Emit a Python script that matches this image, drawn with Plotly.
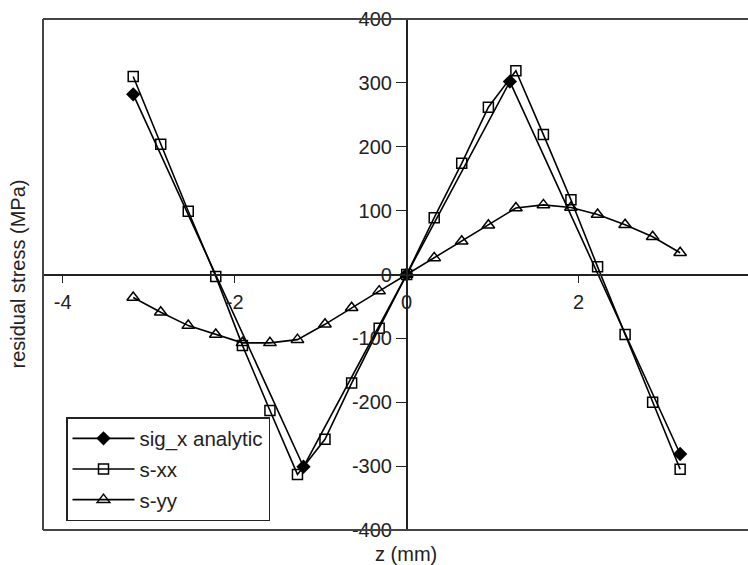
import plotly.graph_objects as go

# data
z_grid = [-3.18, -2.86, -2.54, -2.22, -1.91, -1.59, -1.27, -0.95, -0.64, -0.32, 0.0,
          0.32, 0.64, 0.95, 1.27, 1.59, 1.91, 2.22, 2.54, 2.86, 3.18]
s_xx = [310, 204, 99, -3, -111, -213, -313, -258, -170, -84, 0,
        89, 174, 262, 319, 219, 117, 12, -94, -200, -305]
s_yy = [-36, -59, -80, -94, -107, -107, -102, -78, -52, -26, 0,
        26, 52, 77, 104, 109, 105, 94, 78, 59, 34]
z_analytic = [-3.18, -1.2, 0.0, 1.2, 3.18]
sig_x_analytic = [282, -301, 0, 302, -281]

x_ticks = [-4, -2, 0, 2, 4]
x_ticktext = ["-4", "-2", "0", "2", "4"]
y_ticks = [-400, -300, -200, -100, 0, 100, 200, 300, 400]
y_ticktext = ["-400", "-300", "-200", "-100", "0", "100", "200", "300", "400"]

FONT = "Arial, Liberation Sans, sans-serif"
INK = "#222222"

fig = go.Figure()
fig.add_trace(go.Scatter(
    x=z_analytic, y=sig_x_analytic, name="sig_x analytic", mode="lines+markers",
    line=dict(color="black", width=1.6),
    marker=dict(symbol="diamond", size=11, color="black"),
    legendgroup="a"))
fig.add_trace(go.Scatter(
    x=z_grid, y=s_xx, name="s-xx", mode="lines+markers",
    line=dict(color="black", width=1.6),
    marker=dict(symbol="square-open", size=10, color="black", line=dict(width=1.5)),
    legendgroup="b"))
fig.add_trace(go.Scatter(
    x=z_grid, y=s_yy, name="s-yy", mode="lines+markers",
    line=dict(color="black", width=1.6),
    marker=dict(symbol="triangle-up-open", size=11, color="black", line=dict(width=1.5)),
    legendgroup="c"))

W, H = 748, 565
L, R, T, B = 43, 0, 19, 35
xmin, xmax = -4.229, 3.969
y0_frac = 0.5
x0_frac = (0 - xmin) / (xmax - xmin)

fig.update_layout(
    width=W, height=H,
    margin=dict(l=L, r=R, t=T, b=B),
    paper_bgcolor="white", plot_bgcolor="white",
    font=dict(family=FONT, size=20, color=INK),
    showlegend=True,
    legend=dict(
        x=(66 - L) / (W - L - R), y=(530 - 521) / (H - T - B),
        xanchor="left", yanchor="bottom",
        bgcolor="white", bordercolor=INK, borderwidth=1.5,
        font=dict(size=20.5, family=FONT, color=INK),
        traceorder="grouped", tracegroupgap=1, itemwidth=62,
    ),
    xaxis=dict(
        range=[xmin, xmax], anchor="free", position=y0_frac,
        showgrid=False, zeroline=False,
        showline=True, linecolor=INK, linewidth=1.5,
        ticks="outside", ticklen=8, tickwidth=1.2, tickcolor=INK,
        tickvals=x_ticks, ticktext=x_ticktext,
        tickfont=dict(size=20, family=FONT, color=INK),
        ticklabelstandoff=2,
    ),
    yaxis=dict(
        range=[-400, 400], anchor="free", position=x0_frac,
        showgrid=False, zeroline=False,
        showline=True, linecolor=INK, linewidth=1.5,
        ticks="outside", ticklen=10, tickwidth=1.2, tickcolor=INK,
        tickvals=y_ticks, ticktext=y_ticktext,
        tickfont=dict(size=20, family=FONT, color=INK),
    ),
    shapes=[
        dict(type="line", xref="paper", yref="paper", x0=0, x1=1, y0=1, y1=1,
             line=dict(color="#444444", width=2)),
        dict(type="line", xref="paper", yref="paper", x0=0, x1=1, y0=0, y1=0,
             line=dict(color="#444444", width=2)),
        dict(type="line", xref="paper", yref="paper", x0=0, x1=0, y0=0, y1=1,
             line=dict(color="#444444", width=2)),
    ],
    annotations=[
        dict(text="residual stress (MPa)", xref="paper", yref="paper",
             x=(17 - L) / (W - L - R), y=0.5, textangle=-90, showarrow=False,
             xanchor="center", yanchor="middle",
             font=dict(size=20, family=FONT, color=INK)),
        dict(text="z (mm)", xref="paper", yref="paper",
             x=(406 - L) / (W - L - R), y=(530 - 554) / (H - T - B), showarrow=False,
             xanchor="center", yanchor="middle",
             font=dict(size=20, family=FONT, color=INK)),
    ],
)

fig.write_html("out.html", config={"displayModeBar": False},
               post_script="document.body.style.margin='0px';document.body.style.overflow='hidden';")
